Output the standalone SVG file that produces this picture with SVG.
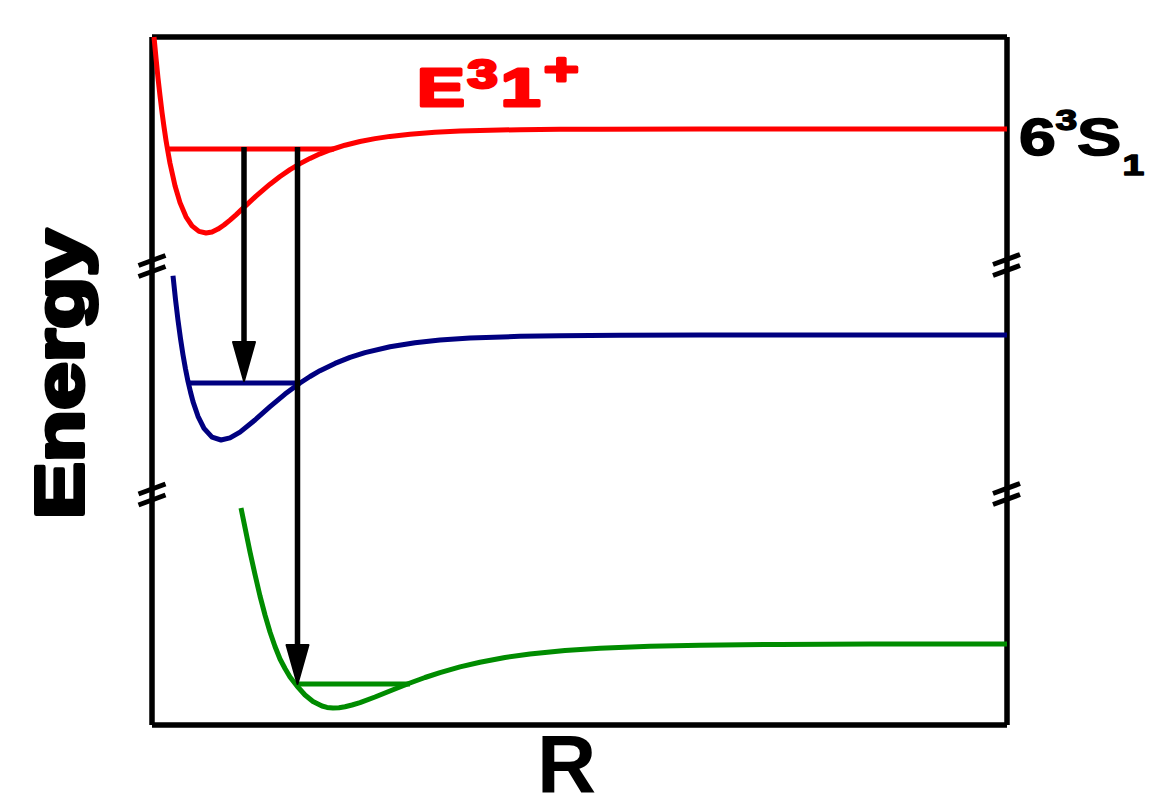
<svg xmlns="http://www.w3.org/2000/svg" xmlns:xlink="http://www.w3.org/1999/xlink" width="1152" height="809" viewBox="0 0 1152 809">
<style>
.frame{fill:none;stroke:#000;stroke-width:5.5;stroke-linecap:butt}
.curve{fill:none;stroke-width:5;stroke-linejoin:round;stroke-linecap:butt}
.red{stroke:#ff0000}
.blue{stroke:#000080}
.green{stroke:#008c00}
.arrow{fill:none;stroke:#000;stroke-width:5.5;stroke-linecap:butt}
.brk{stroke:#000;stroke-width:5;stroke-linecap:butt}
.lbl{font-family:"Liberation Sans",Arial,sans-serif;font-weight:bold}
</style>
<defs>
<marker id="ah" markerUnits="userSpaceOnUse" viewBox="0 0 42 26" markerWidth="42" markerHeight="26" refX="20" refY="13" orient="auto">
<path d="M1,2 L40,13 L1,24 Z" fill="#000" stroke="#000" stroke-width="2" stroke-linejoin="round"/>
</marker>
<g id="brk">
<line class="brk" x1="-13.5" y1="-0.5" x2="13.5" y2="-10.5"/>
<line class="brk" x1="-13.5" y1="10.5" x2="13.5" y2="0.5"/>
</g>
</defs>
<rect width="1152" height="809" fill="#fff"/>
<g id="frame">
<path class="frame" d="M152,37 H1007 M1007,37 V725 M1007,725 H152 M152,725 V37"/>
<use xlink:href="#brk" x="152" y="266"/>
<use xlink:href="#brk" x="152" y="494.5"/>
<use xlink:href="#brk" x="1006.5" y="265"/>
<use xlink:href="#brk" x="1006.5" y="494"/>
</g>
<g id="state-red">
<path class="curve red" d="M154,37 L156,58 L158,78 L160,95.6 L162,112.2 L164,126.8 L166,140.3 L168,152.2 L170,163.2 L175,185.8 L180,202.6 L186,216.8 L192,225.9 L199,231.4 L206,233 L212,232 L218,229.1 L224,225 L230,220.1 L236,214.8 L242,209.2 L249,202.7 L256,196.2 L263,190.1 L270,184.2 L280,176.5 L290,169.6 L300,163.6 L310,158.4 L320,153.8 L330,150 L345,145.2 L360,141.5 L375,138.6 L390,136.4 L410,134.2 L435,132.3 L460,131.1 L490,130.2 L520,129.7 L560,129.35 L600,129.15 L700,129 L1007,129"/>
<line class="curve red" x1="169" y1="149" x2="334" y2="149"/>
</g>
<g id="state-blue">
<path class="curve blue" d="M173,275.7 L175.5,299.4 L178,320.2 L180.5,338.6 L183,354.8 L185.5,369 L188,381.4 L190.5,392 L193,401.6 L198,416.3 L204,428.3 L212,437.2 L221,440 L230,437.9 L240,432.1 L255,420 L270,406.7 L285,394.1 L300,383 L310,376.5 L320,370.7 L335,363.4 L350,357.4 L365,352.6 L390,346.7 L415,342.8 L440,340.1 L470,338.1 L520,336.3 L560,335.7 L620,335.3 L700,335.1 L800,335 L1007,335"/>
<line class="curve blue" x1="190" y1="383" x2="300" y2="383"/>
</g>
<g id="state-green">
<path class="curve green" d="M241,508 L245.5,530 L250,552 L255,574.5 L260,596 L265,615 L270,632 L275,646.5 L280,659 L285,668.5 L290,677 L297,686 L305,695 L313,701.5 L322,706 L327,707.4 L333,708 L339,707.7 L345,706.7 L352,705 L360,702.6 L375,697 L393,689.7 L410,683 L425,677.5 L440,672.6 L460,666.9 L480,662.2 L505,657.5 L530,654 L565,650.5 L600,648.2 L650,646.2 L700,645.2 L780,644.4 L870,644.1 L1007,644"/>
<line class="curve green" x1="297" y1="684" x2="410" y2="684"/>
</g>
<g id="connectors">
<line class="arrow" x1="244" y1="147" x2="244" y2="361" marker-end="url(#ah)"/>
<line class="arrow" x1="297.5" y1="147" x2="297.5" y2="664" marker-end="url(#ah)"/>
</g>
<g id="label-E">
<text class="lbl" transform="translate(417,106) scale(1.35,1)" fill="#ff0000" stroke="#ff0000" stroke-width="3" stroke-linejoin="round"><tspan x="0" y="0" font-size="53">E</tspan><tspan x="37.5" y="-18" font-size="40">3</tspan><tspan x="62" y="0" font-size="53">1</tspan><tspan x="94" y="-20.6" font-size="44">+</tspan></text>
</g>
<g id="label-6S">
<text class="lbl" transform="translate(1019,155) scale(1.3,1)" fill="#000" stroke="#000" stroke-width="1.5" stroke-linejoin="round"><tspan x="0" y="0" font-size="51">6</tspan><tspan x="28" y="-25" font-size="30">3</tspan><tspan x="44.7" y="0" font-size="51">S</tspan><tspan x="79.6" y="20" font-size="30">1</tspan></text>
</g>
<g id="axis-labels">
<text class="lbl" x="537" y="791.5" font-size="82" fill="#000">R</text>
<text class="lbl" transform="translate(83,513) rotate(-90) scale(1.24,1)" x="-5" y="0" font-size="69" fill="#000" stroke="#000" stroke-width="4" stroke-linejoin="round">Energy</text>
</g>
</svg>
